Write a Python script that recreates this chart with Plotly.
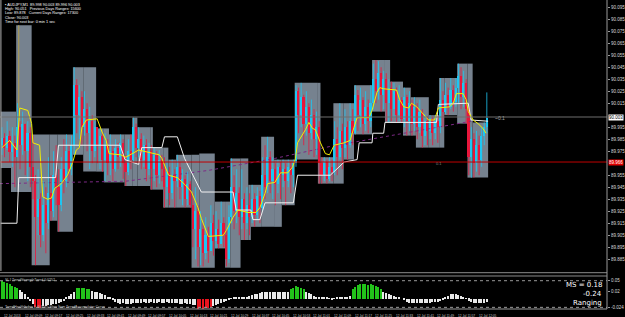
import plotly.graph_objects as go

# ---------------- data (prices in points: 1 point = 0.001) ----------------
bars = list(range(189))
first_open_pts = 89980
close_pts = [89986,89978,89988,89974,89982,89970,89995,89980,89998,89975,89990,89962,89950,89920,89935,89905,89930,89915,89940,89925,
89955,89945,89930,89960,89950,89975,89960,89980,90030,90005,90020,89995,90010,89990,90000,89975,89995,89980,89988,89968,
89980,89965,89975,89960,89978,89970,89982,89965,89958,89975,89968,89995,89978,89985,89968,89980,89960,89975,89960,89972,
89955,89968,89960,89945,89958,89940,89955,89950,89962,89945,89952,89935,89948,89930,89910,89925,89895,89910,89890,89905,
89892,89915,89900,89910,89898,89915,89905,89885,89920,89945,89925,89940,89920,89935,89915,89930,89920,89935,89922,89938,
89928,89955,89945,89970,89950,89960,89948,89962,89955,89960,89950,89962,89955,89965,90025,90005,90020,89998,90012,89990,
90005,89985,89995,89965,89955,89966,89952,89962,89958,89985,89970,89992,89978,89995,89980,90000,89990,90022,90005,90018,
89998,90012,90000,90015,90035,90025,90040,90022,90035,90015,90028,90010,90025,90005,90018,90002,90020,90000,90015,89998,
90012,89995,90008,89988,90000,89992,90002,89990,90000,89995,90018,90008,90022,90012,90026,90016,90028,90038,90020,90032,
90010,89970,89985,89965,89980,89968,89988,89995,90003]
high_pts = [89995,89990,90000,89992,89995,89988,90015,90000,90008,89995,90000,89995,89988,89955,89960,89940,89950,89945,89970,89955,
89975,89980,89960,89970,89985,89989,89980,89988,90045,90035,90030,90025,90025,90015,90012,90005,90000,89994,89994,89990,
89990,89985,89989,89980,89985,89982,89989,89985,89972,89985,89989,90003,89998,89995,89990,89988,89985,89982,89980,89978,
89975,89976,89972,89970,89966,89962,89968,89960,89972,89966,89960,89955,89958,89950,89940,89945,89930,89925,89915,89920,
89912,89930,89922,89925,89918,89933,89920,89910,89930,89969,89955,89960,89945,89960,89940,89945,89940,89947,89940,89945,
89942,89970,89980,89987,89975,89970,89965,89968,89966,89968,89965,89968,89966,89968,90030,90028,90032,90022,90025,90015,
90018,90010,90008,90000,89970,89970,89968,89970,89968,90000,89995,90015,89998,90010,90000,90015,90010,90030,90026,90028,
90020,90025,90018,90030,90048,90051,90050,90045,90042,90040,90035,90033,90032,90028,90030,90020,90028,90022,90025,90018,
90020,90015,90018,90010,90006,90004,90005,90004,90005,90005,90036,90025,90032,90028,90036,90030,90036,90048,90045,90042,
90035,90012,89995,89990,89992,89988,89995,89999,90024]
low_pts = [89972,89970,89976,89966,89962,89945,89970,89960,89972,89955,89950,89945,89935,89880,89905,89895,89900,89890,89910,89917,
89920,89930,89908,89925,89940,89945,89950,89955,89972,89990,89985,89980,89988,89975,89960,89965,89970,89965,89960,89958,
89950,89955,89955,89950,89958,89960,89962,89952,89946,89955,89960,89965,89970,89970,89960,89962,89950,89955,89943,89950,
89945,89948,89950,89928,89935,89930,89935,89928,89945,89935,89930,89928,89930,89928,89895,89885,89879,89880,89879,89885,
89882,89895,89888,89894,89894,89900,89895,89879,89882,89915,89910,89915,89905,89910,89901,89910,89905,89915,89912,89918,
89915,89925,89935,89940,89940,89935,89930,89940,89935,89945,89930,89945,89940,89945,89962,89990,89995,89980,89988,89972,
89985,89970,89972,89948,89948,89950,89948,89950,89950,89955,89955,89968,89960,89970,89968,89978,89980,89989,89992,89995,
89989,89992,89990,89995,90010,90015,90018,90008,90010,90000,89999,90000,90003,89999,90000,89999,89995,89988,89992,89988,
89992,89985,89990,89978,89980,89980,89985,89980,89985,89982,89990,89995,90006,90005,90010,90008,90012,90015,90010,90012,
89998,89955,89953,89953,89958,89955,89962,89980,89990]

# range boxes: start bar, end bar, low, high (points)
box_start = [-0.5,3.5,5.5,11.5,18.5,21.5,27.5,31.5,36.5,39.5,41.5,47.5,50.5,52.5,57.5,58.5,62.5,64.5,67.5,73.5,76.5,82.5,86.5,88.5,
92.5,95.5,96.5,100.5,105.5,108.5,113.5,122.5,123.5,128.5,132.5,136.5,143.5,148.5,150.5,155.5,158.5,160.5,165.5,169.5,171.5,176.5,180.5,182.5]
box_end = box_start[1:] + [188.5]
box_low = [89961,89941,89941,89880,89917,89908,89972,89958,89958,89949,89949,89946,89946,89946,89943,89943,89928,89928,89928,89878,89878,89894,89878,89878,
89901,89901,89912,89912,89912,89930,89968,89948,89948,89948,89968,89989,90008,89999,89999,89988,89988,89978,89978,89978,90005,89998,89953,89953]
box_high = [90008,90008,90080,89989,89989,89989,90045,90045,89994,89994,89989,89989,90003,89995,89995,89978,89978,89968,89972,89972,89973,89933,89933,89969,
89969,89947,89947,89987,89968,89968,90032,90032,89970,90015,90015,90030,90051,90051,90033,90028,90020,90020,90005,90036,90036,90048,90048,89999]

# smoothed average (yellow)
ma_x = [0,3,5.8,6.9,10,11.5,12,14.6,15.8,17.7,19.2,20.4,23,25.4,27.3,28.8,30,31,32.7,36.9,38.8,40.4,41.5,46,48,53,61,62,64.6,68,71,73.5,76,77.3,80,
85.8,87,88.5,89.6,91.5,95.4,98.5,100,102,103,105.8,108,110.8,112.7,113.8,114.6,117.7,119,120.4,121.5,123.5,125.4,127,128.8,132.7,135,136.5,137.7,
142.3,143.5,145.4,146.5,148,153,154.2,155.8,157.7,158.8,160.8,163.5,165.4,167.7,169.2,173.5,175,176.2,178.8,180,180.8,182.7,184.6,186.5,187.7]
ma_y = [89978,89984,89976,90011,90009,89998,89982,89980,89937,89935,89936,89944,89948,89955,89965,89976,89978,89995,90001,90002,89991,89984,89973,89972,
89970,89976,89972,89969,89955,89953,89947,89941,89928,89919,89904,89905,89909,89915,89920,89926,89924,89924,89928,89940,89948,89949,89957,89957,89962,
89969,89982,89993,89999,89994,89993,89982,89973,89972,89980,89982,89984,89995,90003,90003,90009,90024,90028,90027,90026,90018,90012,90011,90015,90012,
90005,90001,90001,90011,90012,90015,90023,90023,90018,90008,90001,89998,89994,89990]
spike_x = [6.5, 6.5]
spike_y = [90011, 90080]

# stepped level line (white)
lvl_x = [-0.5,5.8,6.5,20.8,21.9,45.8,47.7,53,54.2,62,63,68,70.8,74.6,77.3,89.6,90.8,96.5,97.3,100,102,113,114.6,127.3,132.7,137.7,138.5,143.5,143.8,
148,148.5,168.5,169.2,180.8,181.9,188.5]
lvl_y = [89915,89915,89953,89953,89980,89980,89968,89964,89978,89978,89987,89987,89969,89953,89941,89941,89926,89926,89918,89918,89932,89932,89955,89955,
89966,89968,89982,89982,89990,89990,89999,89999,90014,90015,90001,90000]

# trend line (purple dotted)
trend_x = [-0.8,48,80,105.8,127.3,153,180,182]
trend_y = [89948,89950,89959,89969,89979,89989,89999,90000]

current_price = 90.003
red_level = 89.966

# oscillator histogram
hist = [0.050,0.047,0.044,0.040,0.036,0.033,0.030,0.024,0.020,0.012,0.004,-0.006,-0.014,-0.024,-0.027,-0.025,-0.020,-0.019,-0.018,-0.017,
-0.016,-0.015,-0.013,-0.010,-0.006,0.003,0.008,0.014,0.020,0.030,0.031,0.030,0.029,0.028,0.028,0.022,0.020,0.018,0.016,0.013,
0.010,0.006,0.002,-0.002,-0.008,-0.012,-0.014,-0.013,-0.015,-0.016,-0.014,-0.012,-0.013,-0.011,-0.012,-0.010,-0.012,-0.011,-0.010,-0.012,
-0.011,-0.010,-0.012,-0.011,-0.010,-0.011,-0.012,-0.013,-0.012,-0.014,-0.015,-0.013,-0.016,-0.015,-0.017,-0.018,-0.028,-0.026,-0.029,-0.027,
-0.025,-0.023,-0.020,-0.018,-0.015,-0.012,-0.009,-0.006,-0.003,0.001,0.002,0.003,0.004,0.005,0.005,0.006,0.008,0.010,0.012,0.014,
0.016,0.018,0.019,0.018,0.020,0.019,0.018,0.019,0.020,0.018,0.019,0.020,0.027,0.031,0.034,0.033,0.030,0.028,0.018,0.016,
0.012,0.008,0.005,0.004,0.002,0.002,0.003,0.001,-0.001,0.001,0.003,0.004,0.004,0.005,0.006,0.008,0.028,0.033,0.038,0.040,
0.040,0.041,0.039,0.040,0.038,0.036,0.032,0.028,0.018,0.016,0.013,0.010,0.008,0.005,0.002,0.000,-0.003,-0.008,-0.011,-0.012,
-0.013,-0.012,-0.013,-0.012,-0.013,-0.012,-0.011,-0.010,-0.009,-0.008,-0.006,-0.003,0.004,0.008,0.012,0.014,0.013,0.010,0.007,0.004,
0.001,-0.005,-0.009,-0.012,-0.013,-0.013,-0.012,-0.011,-0.010]

time_labels = ["12 Jul 2013","12 Jul 09:09","12 Jul 09:17","12 Jul 09:25","12 Jul 09:33","12 Jul 09:41","12 Jul 09:49","12 Jul 09:57",
"12 Jul 10:05","12 Jul 10:13","12 Jul 10:21","12 Jul 10:29","12 Jul 10:37","12 Jul 10:45","12 Jul 10:53","12 Jul 11:01",
"12 Jul 11:09","12 Jul 11:17","12 Jul 11:25","12 Jul 11:33","12 Jul 11:41","12 Jul 11:49","12 Jul 11:57","12 Jul 12:05"]
time_label_bars = [0,8,16,24,32,40,48,56,64,72,80,88,96,104,112,120,128,136,144,152,160,168,176,184]

price_ticks = [89.875,89.885,89.895,89.905,89.915,89.925,89.935,89.945,89.955,89.975,89.985,89.995,
               90.015,90.025,90.035,90.045,90.055,90.065,90.075,90.085,90.095]

info_lines = ["\u25aa AUDJPY,M1  89.998 90.003 89.996 90.003",
              "High: 90.051   Previous Days Ranges: 15600",
              "Low: 89.878   Current Days Ranges: 17300",
              "Close: 90.003",
              "Time for next bar: 0 min 1 sec"]

# ---------------- figure ----------------
P = lambda v: v / 1000.0
opens = [first_open_pts] + close_pts[:-1]
O = [P(v) for v in opens]
C = [P(v) for v in close_pts]
H = [P(max(h, o, c)) for h, o, c in zip(high_pts, opens, close_pts)]
L = [P(min(l, o, c)) for l, o, c in zip(low_pts, opens, close_pts)]

BULL = "#1ec6f2"
BEAR = "#e8173c"
NARROW = "Liberation Sans Narrow, Liberation Sans, Arial Narrow, sans-serif"
fig = go.Figure()

fig.add_trace(go.Scatter(x=trend_x, y=[P(v) for v in trend_y], mode="lines",
                         line=dict(color="#7d2a86", width=1, dash="dot"), hoverinfo="skip"))

# candles: wicks + bodies
for up, col in ((True, BULL), (False, BEAR)):
    idx = [i for i in bars if (C[i] >= O[i]) == up]
    wx, wy = [], []
    for i in idx:
        wx += [i, i, None]
        wy += [L[i], H[i], None]
    fig.add_trace(go.Scatter(x=wx, y=wy, mode="lines", line=dict(color=col, width=0.8), hoverinfo="skip"))
    fig.add_trace(go.Bar(x=idx, y=[max(abs(C[i] - O[i]), 0.0006) for i in idx],
                         base=[min(C[i], O[i]) for i in idx], width=0.62,
                         marker=dict(color=col, line=dict(width=0)), hoverinfo="skip"))

fig.add_trace(go.Scatter(x=lvl_x, y=[P(v) for v in lvl_y], mode="lines",
                         line=dict(color="#f2f2f2", width=1), hoverinfo="skip"))
fig.add_trace(go.Scatter(x=spike_x, y=[P(v) for v in spike_y], mode="lines",
                         line=dict(color="#b09a4a", width=1), hoverinfo="skip"))
fig.add_trace(go.Scatter(x=ma_x, y=[P(v) for v in ma_y], mode="lines",
                         line=dict(color="#f4f000", width=1), hoverinfo="skip"))

hcol = ["#22c41a" if v >= 0.027 else ("#e8141e" if v <= -0.022 else "#e8e8e8") for v in hist]
fig.add_trace(go.Bar(x=bars, y=hist, marker=dict(color=hcol, line=dict(width=0)), width=0.55,
                     yaxis="y2", hoverinfo="skip"))

shapes = []
for s, e, lo, hi in zip(box_start, box_end, box_low, box_high):
    shapes.append(dict(type="rect", xref="x", yref="y", x0=s, x1=e, y0=P(lo), y1=P(hi),
                       fillcolor="#76828f", line=dict(width=0), layer="below"))
shapes += [
    dict(type="line", xref="paper", yref="y", x0=0, x1=1, y0=current_price + 0.0005, y1=current_price + 0.0005,
         line=dict(color="#6e6e6e", width=1)),
    dict(type="line", xref="paper", yref="y", x0=0, x1=1, y0=red_level, y1=red_level,
         line=dict(color="#c00000", width=1)),
    dict(type="line", xref="paper", yref="y2", x0=0, x1=1, y0=0.05, y1=0.05,
         line=dict(color="#9a9a9a", width=1, dash="dot")),
    dict(type="line", xref="paper", yref="y2", x0=0, x1=1, y0=-0.024, y1=-0.024,
         line=dict(color="#9a9a9a", width=1, dash="dot")),
    dict(type="line", xref="paper", yref="paper", x0=0, x1=1, y0=0.1175, y1=0.1175,
         line=dict(color="#8a8a8a", width=1)),
    dict(type="line", xref="paper", yref="paper", x0=0, x1=1, y0=0.1068, y1=0.1068,
         line=dict(color="#8a8a8a", width=1)),
    dict(type="line", xref="paper", yref="paper", x0=0.0015, x1=0.0015, y0=0.123, y1=1,
         line=dict(color="#b0b0b0", width=1)),
    dict(type="line", xref="paper", yref="paper", x0=1, x1=1, y0=0, y1=1,
         line=dict(color="#9a9a9a", width=1)),
    dict(type="line", xref="paper", yref="paper", x0=0, x1=1, y0=0, y1=0,
         line=dict(color="#9a9a9a", width=1)),
]

ann = []
for i, t in enumerate(info_lines):
    ann.append(dict(xref="paper", yref="paper", x=0.005, y=1, yshift=-1 - 4.2 * i, xanchor="left", yanchor="top",
                    text=t, showarrow=False, font=dict(color="#ffffff", size=3.8, family=NARROW)))
for b, t in zip(time_label_bars, time_labels):
    ann.append(dict(xref="x", yref="paper", x=b, y=0, yshift=-2.5, xanchor="left", yanchor="top", text=t,
                    showarrow=False, font=dict(color="#c8c8c8", size=3.2, family=NARROW)))
ann += [
    dict(xref="paper", yref="y", x=1.002, y=current_price + 0.0005, xanchor="left", yanchor="middle", text="90.003",
         showarrow=False, bgcolor="#ffffff", borderpad=0, font=dict(color="#000000", size=4.5, family=NARROW)),
    dict(xref="paper", yref="y", x=1.002, y=red_level, xanchor="left", yanchor="middle", text="89.966",
         showarrow=False, bgcolor="#e00000", borderpad=0, font=dict(color="#ffffff", size=4.5, family=NARROW)),
    dict(xref="x", yref="y", x=190.5, y=current_price, xanchor="left", yanchor="middle", text="~0.1",
         showarrow=False, font=dict(color="#a0a0a0", size=5, family=NARROW)),
    dict(xref="x", yref="y", x=167.5, y=red_level - 0.0015, xanchor="left", yanchor="middle", text="0.1",
         showarrow=False, font=dict(color="#808080", size=4, family=NARROW)),
    dict(xref="paper", yref="y2", x=0.005, y=0.05, yshift=0.5, xanchor="left", yanchor="middle",
         text="SLJ TrendStrengthTrend 0.0252", showarrow=False,
         font=dict(color="#c8c8c8", size=3.5, family=NARROW)),
    dict(xref="paper", yref="y2", x=0.005, y=-0.024, xanchor="left", yanchor="middle",
         text="TrendHealthIndex 4 -0.0045 Slow Sum TrendAccumulator Curve", showarrow=False,
         font=dict(color="#c8c8c8", size=3.5, family=NARROW)),
    dict(xref="paper", yref="paper", x=0.995, y=0.0768, xanchor="right", yanchor="middle", text="MS = 0.18",
         showarrow=False, font=dict(color="#ffffff", size=7, family="DejaVu Sans")),
    dict(xref="paper", yref="paper", x=0.995, y=0.0475, xanchor="right", yanchor="middle", text="-0.24",
         showarrow=False, font=dict(color="#ffffff", size=7, family="DejaVu Sans")),
    dict(xref="paper", yref="paper", x=0.995, y=0.018, xanchor="right", yanchor="middle", text="Ranging",
         showarrow=False, font=dict(color="#ffffff", size=7, family="DejaVu Sans")),
]

fig.update_layout(
    width=625, height=317, autosize=False,
    margin=dict(l=0, r=13, t=0, b=8),
    paper_bgcolor="#000000", plot_bgcolor="#000000",
    showlegend=False, shapes=shapes, annotations=ann, barmode="overlay", bargap=0,
    xaxis=dict(range=[-0.77, 234.6], showticklabels=False, showgrid=False, zeroline=False,
               showline=False, anchor="y2", fixedrange=True),
    yaxis=dict(domain=[0.123, 1], side="right", range=[89.8752, 90.101], tickvals=price_ticks,
               ticktext=["%.3f" % v for v in price_ticks], showgrid=False, zeroline=False,
               tickfont=dict(color="#d8d8d8", size=4.5, family=NARROW),
               ticks="outside", ticklen=2, tickcolor="#9a9a9a"),
    yaxis2=dict(domain=[0, 0.1068], side="right", range=[-0.0286, 0.0631], tickvals=[0.05, 0.02, -0.024],
                ticktext=["0.05", "0.02", "-0.024"], showgrid=False, zeroline=False,
                tickfont=dict(color="#d8d8d8", size=4.5, family=NARROW),
                ticks="outside", ticklen=2, tickcolor="#9a9a9a"),
)

fig.write_html("out.html")
